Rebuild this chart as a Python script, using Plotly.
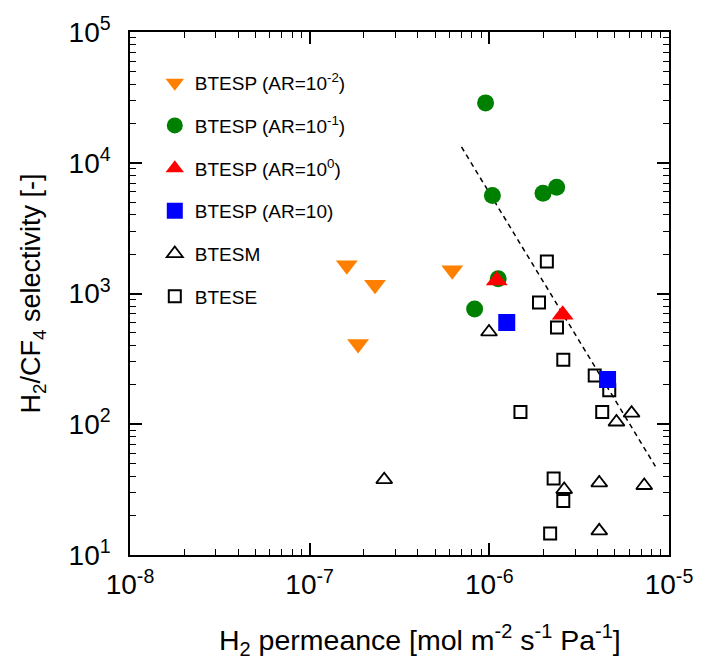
import plotly.graph_objects as go

# H2 permeance [mol m-2 s-1 Pa-1] and H2/CF4 selectivity for each membrane series
btesp_m2_x = [1.61e-7, 2.31e-7, 1.86e-7, 6.22e-7]
btesp_m2_y = [1645, 1165, 411, 1503]

btesp_m1_x = [9.53e-7, 1.04e-6, 1.99e-6, 2.37e-6, 1.12e-6, 8.28e-7]
btesp_m1_y = [28700, 5620, 5850, 6490, 1294, 760]

btesp_0_x = [1.10e-6, 2.56e-6]
btesp_0_y = [1259, 689]

btesp_1_x = [1.25e-6, 4.55e-6]
btesp_1_y = [600, 220]

btesm_x = [9.96e-7, 2.60e-7, 6.19e-6, 5.10e-6, 2.61e-6, 4.09e-6, 7.28e-6, 4.09e-6]
btesm_y = [508, 37.7, 121.6, 104, 31.7, 35.6, 34.0, 15.3]

btese_x = [2.09e-6, 1.89e-6, 2.38e-6, 2.58e-6, 3.86e-6, 4.65e-6, 4.25e-6, 1.49e-6,
           2.28e-6, 2.58e-6, 2.18e-6]
btese_y = [1758, 853, 550, 312, 236, 182, 124, 124, 38.5, 25.9, 14.6]

# Trade-off (upper bound) line end points
bound_x = [7.0e-7, 8.4e-6]
bound_y = [13200, 47.6]

# Decade ticks and their labels
x_tick_vals = [1e-8, 1e-7, 1e-6, 1e-5]
x_tick_text = ["10<sup>-8</sup>", "10<sup>-7</sup>", "10<sup>-6</sup>", "10<sup>-5</sup>"]
y_tick_vals = [1e1, 1e2, 1e3, 1e4, 1e5]
y_tick_text = ["10<sup>1</sup>", "10<sup>2</sup>", "10<sup>3</sup>", "10<sup>4</sup>", "10<sup>5</sup>"]

FONT = "Liberation Sans, Arial, sans-serif"

fig = go.Figure()

fig.add_trace(go.Scatter(
    x=bound_x, y=bound_y, mode="lines", showlegend=False, hoverinfo="skip",
    line=dict(color="black", width=1.5, dash="5px,4px"),
))

fig.add_trace(go.Scatter(
    x=btese_x, y=btese_y, mode="markers", name="BTESE",
    legendgroup="g6", legendrank=6,
    marker=dict(symbol="square-open", size=12, color="black", line=dict(width=2, color="black")),
))
fig.add_trace(go.Scatter(
    x=btesm_x, y=btesm_y, mode="markers", name="BTESM",
    legendgroup="g5", legendrank=5,
    marker=dict(symbol="triangle-up-open", size=14, color="black", line=dict(width=1.8, color="black")),
))
fig.add_trace(go.Scatter(
    x=btesp_m2_x, y=btesp_m2_y, mode="markers", name="BTESP (AR=10<sup>-2</sup>)",
    legendgroup="g1", legendrank=1,
    marker=dict(symbol="triangle-down", size=19, color="#FF8000", line=dict(width=0)),
))
fig.add_trace(go.Scatter(
    x=btesp_m1_x, y=btesp_m1_y, mode="markers", name="BTESP (AR=10<sup>-1</sup>)",
    legendgroup="g2", legendrank=2,
    marker=dict(symbol="circle", size=17, color="#008000", line=dict(width=0)),
))
fig.add_trace(go.Scatter(
    x=btesp_0_x, y=btesp_0_y, mode="markers", name="BTESP (AR=10<sup>0</sup>)",
    legendgroup="g3", legendrank=3,
    marker=dict(symbol="triangle-up", size=19, color="#FF0000", line=dict(width=0)),
))
fig.add_trace(go.Scatter(
    x=btesp_1_x, y=btesp_1_y, mode="markers", name="BTESP (AR=10)",
    legendgroup="g4", legendrank=4,
    marker=dict(symbol="square", size=17, color="#0000FF", line=dict(width=0)),
))

axis_common = dict(
    type="log",
    showline=True, linecolor="black", linewidth=1.5, mirror="allticks",
    ticks="inside", ticklen=12, tickwidth=1.5, tickcolor="black",
    showgrid=False, zeroline=False,
    tickfont=dict(family=FONT, size=28, color="black"),
    minor=dict(ticks="inside", ticklen=6, tickwidth=1.2, tickcolor="black",
               dtick="D1", showgrid=False),
)

fig.update_layout(
    width=706, height=666,
    margin=dict(l=130, r=37, t=24, b=111),
    paper_bgcolor="white", plot_bgcolor="white",
    font=dict(family=FONT, color="black"),
    xaxis=dict(
        range=[-8, -5], tickvals=x_tick_vals, ticktext=x_tick_text,
        ticklabelstandoff=4,
        **axis_common,
    ),
    yaxis=dict(
        range=[1, 5], tickvals=y_tick_vals, ticktext=y_tick_text,
        ticklabelstandoff=12,
        title=dict(text="H<sub>2</sub>/CF<sub>4</sub> selectivity [-]",
                   font=dict(family=FONT, size=27, color="black"), standoff=20),
        **axis_common,
    ),
    annotations=[dict(
        text="H<sub>2</sub> permeance [mol m<sup>-2</sup> s<sup>-1</sup> Pa<sup>-1</sup>]",
        xref="paper", yref="paper", x=0.538, y=-0.162,
        xanchor="center", yanchor="middle", showarrow=False,
        font=dict(family=FONT, size=28.5, color="black"),
    )],
    legend=dict(
        x=0.046, y=0.939, xanchor="left", yanchor="top",
        bgcolor="rgba(0,0,0,0)", borderwidth=0,
        font=dict(family=FONT, size=19, color="black"),
        tracegroupgap=15,
    ),
)

fig.write_html("out.html")
